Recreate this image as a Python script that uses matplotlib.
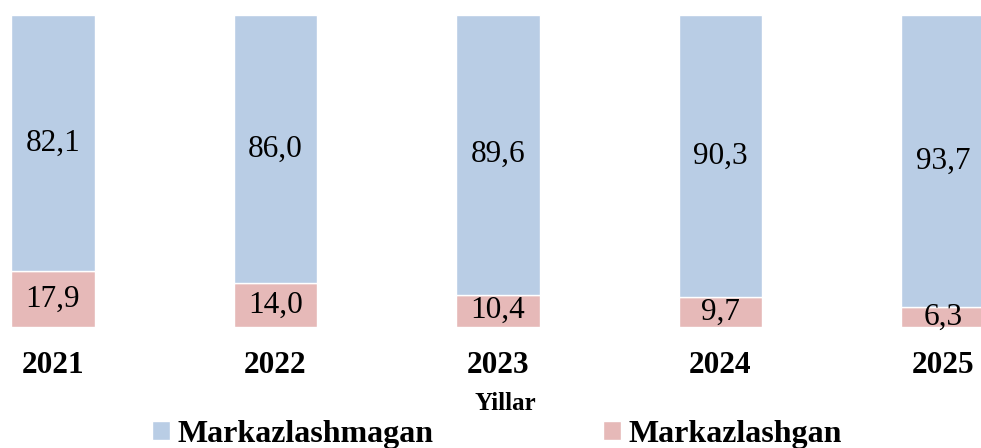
import matplotlib
matplotlib.use("Agg")
import matplotlib.pyplot as plt
import numpy as np

plt.rcParams['font.family'] = ['Liberation Serif', 'DejaVu Serif']

years = ["2021", "2022", "2023", "2024", "2025"]
markazlashmagan = [82.1, 86.0, 89.6, 90.3, 93.7]
markazlashgan = [17.9, 14.0, 10.4, 9.7, 6.3]
labels_magan = ["82,1", "86,0", "89,6", "90,3", "93,7"]
labels_gan = ["17,9", "14,0", "10,4", "9,7", "6,3"]

blue = "#B9CDE5"
pink = "#E6B9B8"

fig = plt.figure(figsize=(9.81, 4.48), dpi=100)
ax = fig.add_axes([0, 0.270, 1, 0.6964])
x = np.arange(len(years))
w = 0.3775
b1 = ax.bar(x, markazlashgan, width=w, color=pink, edgecolor="white", linewidth=1, label="Markazlashgan")
b2 = ax.bar(x, markazlashmagan, width=w, bottom=markazlashgan, color=blue, edgecolor="white", linewidth=1, label="Markazlashmagan")

for i in range(len(years)):
    ax.text(x[i], markazlashgan[i] / 2, labels_gan[i], ha="center", va="center", fontsize=22.5)
    ax.text(x[i], markazlashgan[i] + markazlashmagan[i] / 2, labels_magan[i], ha="center", va="center", fontsize=22.5)

ax.set_xlim(-0.2382, 4.1708)
ax.set_ylim(0, 100)
ax.set_xticks(x)
ax.set_xticklabels(years, fontsize=22.5, fontweight="bold")
ax.tick_params(axis="x", length=0, pad=17)
ax.set_yticks([])
for s in ax.spines.values():
    s.set_visible(False)

fig.text(505 / 981, 1 - 403 / 448, "Yillar", ha="center", va="center", fontsize=18, fontweight="bold")

leg = fig.legend(handles=[b2, b1], labels=["Markazlashmagan", "Markazlashgan"], loc="center",
                 bbox_to_anchor=(497 / 981, 1 - 434 / 448), ncol=2, frameon=False,
                 prop={"size": 23, "weight": "bold"}, handlelength=0.55, handleheight=0.55,
                 handletextpad=0.25, columnspacing=5.3, borderpad=0)

fig.savefig("out.png", dpi=100)
